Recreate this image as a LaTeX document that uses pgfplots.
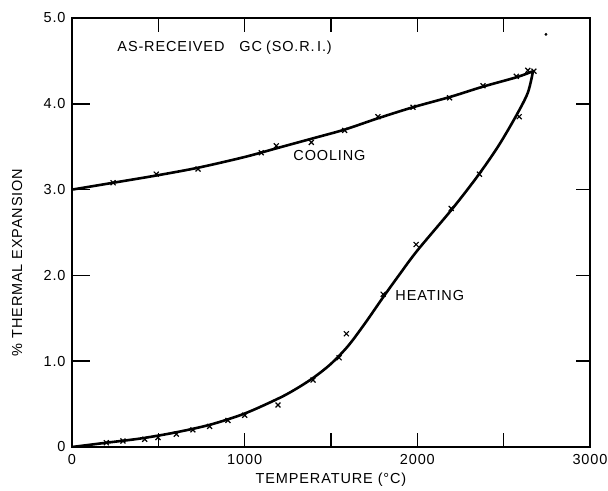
\documentclass[border=0pt]{standalone}
\usepackage{fontspec}
\setmainfont{Liberation Sans}[LetterSpace=6]
\usepackage{pgfplots}
\pgfplotsset{compat=1.18}

\begin{document}
\begin{tikzpicture}[font=\fontsize{14.5bp}{16bp}\selectfont]
\path (0,0) rectangle (608bp,491bp);
\begin{axis}[
    at={(72bp,44bp)}, anchor=south west,
    scale only axis, width=518bp, height=429bp,
    xmin=0, xmax=3000, ymin=0, ymax=5,
    xtick={0,1000,2000,3000},
    xticklabels={0,1000,2000,3000},
    minor xtick={500,1500,2500},
    ytick={0,1,2,3,4,5}, yticklabels={0,1.0,2.0,3.0,4.0,5.0},
    tick align=inside,
    major tick length=14bp, minor tick length=14bp,
    every tick/.style={black, line width=1.5pt},
    axis line style={line width=1.4pt},
    xticklabel style={yshift=-4bp, inner xsep=0pt},
    yticklabel style={xshift=-3bp},
    xlabel={TEMPERATURE (°C)},
    ylabel={\% THERMAL EXPANSION},
    xlabel style={at={(rel axis cs:0.5,-0.077)}, anchor=center},
    ylabel style={at={(rel axis cs:-0.106,0.43)}, anchor=center},
]
% cooling curve
\addplot[line width=2.6pt, smooth, no markers] coordinates {
    (0,3.00) (240,3.08) (490,3.165) (730,3.255) (1000,3.38) (1200,3.49)
    (1400,3.60) (1580,3.70) (1770,3.83) (1975,3.96) (2190,4.08)
    (2380,4.20) (2575,4.31) (2670,4.38)
};
\addplot[only marks, mark=x, mark size=3.5bp, mark options={line width=1.2pt}] coordinates {
    (238,3.08) (488,3.18) (730,3.24) (1096,3.43) (1183,3.51) (1386,3.55)
    (1579,3.69) (1772,3.85) (1975,3.96) (2187,4.07) (2380,4.21)
    (2573,4.32) (2640,4.39) (2675,4.38)
};
% heating curve
\addplot[line width=2.6pt, smooth, tension=0.5, no markers] coordinates {
    (0,0.00) (200,0.05) (400,0.10) (600,0.17) (800,0.26) (1000,0.39)
    (1200,0.57) (1300,0.68) (1400,0.81) (1500,0.97) (1600,1.18) (1700,1.45)
    (1800,1.74) (1900,2.02) (2000,2.29) (2200,2.77) (2350,3.16)
    (2470,3.51) (2575,3.87) (2640,4.13) (2670,4.38)
};
\addplot[only marks, mark=x, mark size=3.5bp, mark options={line width=1.2pt}] coordinates {
    (199,0.05) (295,0.07) (421,0.09) (498,0.11) (604,0.15) (700,0.20)
    (797,0.24) (903,0.31) (1000,0.37) (1193,0.49) (1396,0.78) (1547,1.04)
    (1589,1.32) (1802,1.78) (1993,2.36) (2196,2.78) (2360,3.18) (2590,3.85)
};
\addplot[only marks, mark=*, mark size=1.2bp] coordinates {(2745,4.81)};

% inward ticks, as on the original frame
\pgfplotsinvokeforeach{500,1000,1500,2000,2500}{
    \draw[line width=1.5pt] (axis cs:#1,0) -- (axis cs:#1,0.165);
    \draw[line width=1.5pt] (axis cs:#1,5) -- (axis cs:#1,4.85);
}
\pgfplotsinvokeforeach{1,2,3,4}{
    \draw[line width=1.5pt] (axis cs:0,#1) -- (axis cs:104,#1);
    \draw[line width=1.5pt] (axis cs:3000,#1) -- (axis cs:2920,#1);
}

\node[anchor=west] at (axis cs:243,4.65) {AS-RECEIVED\hspace{15bp}GC\hspace{4bp}(SO.R.\,I.)};
\node[anchor=west] at (axis cs:1262,3.40) {COOLING};
\node[anchor=west] at (axis cs:1853,1.76) {HEATING};
\end{axis}
\end{tikzpicture}
\end{document}
